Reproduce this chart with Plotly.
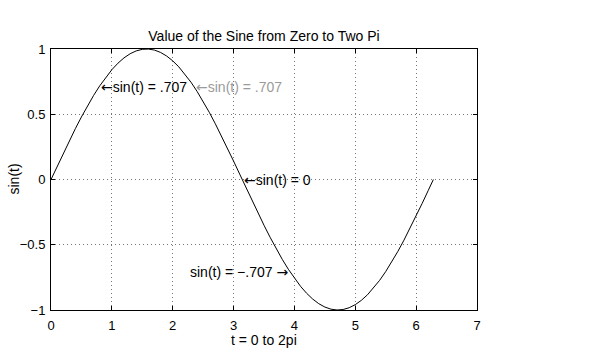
import plotly.graph_objects as go

# Sampled sine curve, t = 0 .. 2pi
t_vals = [0.0, 0.1, 0.2, 0.3, 0.4, 0.5, 0.6, 0.7, 0.8, 0.9,
          1.0, 1.1, 1.2, 1.3, 1.4, 1.5, 1.6, 1.7, 1.8, 1.9,
          2.0, 2.1, 2.2, 2.3, 2.4, 2.5, 2.6, 2.7, 2.8, 2.9,
          3.0, 3.1, 3.2, 3.3, 3.4, 3.5, 3.6, 3.7, 3.8, 3.9,
          4.0, 4.1, 4.2, 4.3, 4.4, 4.5, 4.6, 4.7, 4.8, 4.9,
          5.0, 5.1, 5.2, 5.3, 5.4, 5.5, 5.6, 5.7, 5.8, 5.9,
          6.0, 6.1, 6.2, 6.283]
sin_vals = [0.0, 0.0998, 0.1987, 0.2955, 0.3894, 0.4794, 0.5646, 0.6442, 0.7174, 0.7833,
            0.8415, 0.8912, 0.9320, 0.9636, 0.9854, 0.9975, 0.9996, 0.9917, 0.9738, 0.9463,
            0.9093, 0.8632, 0.8085, 0.7457, 0.6755, 0.5985, 0.5155, 0.4274, 0.3350, 0.2392,
            0.1411, 0.0416, -0.0584, -0.1577, -0.2555, -0.3508, -0.4425, -0.5298, -0.6119, -0.6878,
            -0.7568, -0.8183, -0.8716, -0.9162, -0.9516, -0.9775, -0.9937, -0.9999, -0.9962, -0.9825,
            -0.9589, -0.9258, -0.8835, -0.8323, -0.7728, -0.7055, -0.6313, -0.5507, -0.4646, -0.3739,
            -0.2794, -0.1822, -0.0831, 0.0]

# Labelled points on the curve
label_t = [0.785, 2.356, 3.1416, 3.927]
label_y = [0.707, 0.707, 0.0, -0.707]
label_text = ["sin(t) = .707", "sin(t) = .707", "sin(t) = 0", "sin(t) = \u2212.707 "]
label_arrow = ["left", "left", "left", "right"]
label_color = ["#000000", "#9a9a9a", "#000000", "#000000"]

x_ticks = [0, 1, 2, 3, 4, 5, 6, 7]
y_ticks = [-1, -0.5, 0, 0.5, 1]
y_ticktext = ["\u22121", "\u22120.5", "0", "0.5", "1"]

FONT = "Liberation Sans, Arial, Helvetica, sans-serif"
ARROW_SPAN = '<span style="font-family:DejaVu Sans">{}</span>'

# Axes box in pixels
W, H = 598, 350
L, R, T, B = 51, 121, 49, 40
PW, PH = W - L - R, H - T - B

fig = go.Figure()
fig.add_trace(go.Scatter(x=t_vals, y=sin_vals, mode="lines",
                         line=dict(color="#000000", width=1), showlegend=False,
                         hoverinfo="skip"))

for tx, ty, txt, side, col in zip(label_t, label_y, label_text, label_arrow, label_color):
    if side == "left":
        full = ARROW_SPAN.format("\u2190") + txt
        anc = "left"
    else:
        full = txt + ARROW_SPAN.format("\u2192")
        anc = "right"
    fig.add_annotation(x=tx, y=ty, text=full, showarrow=False, xanchor=anc, yanchor="middle",
                       font=dict(family=FONT, size=14, color=col))

# Axis titles
fig.add_annotation(text="t = 0 to 2pi", xref="paper", yref="paper", x=0.5,
                   y=-(340 - (T + PH)) / PH, xanchor="center", yanchor="middle",
                   showarrow=False, font=dict(family=FONT, size=14, color="#000000"))
fig.add_annotation(text="sin(t)", xref="paper", yref="paper", x=(13 - L) / PW, y=0.5,
                   xanchor="center", yanchor="middle", textangle=-90,
                   showarrow=False, font=dict(family=FONT, size=14, color="#000000"))

axis_common = dict(showline=True, linecolor="#000000", linewidth=1, mirror="ticks",
                   ticks="inside", ticklen=4, tickcolor="#000000", automargin=False,
                   showgrid=True, gridcolor="#777777", griddash="1px,3px", gridwidth=1,
                   zeroline=False, tickfont=dict(family=FONT, size=13, color="#000000"))

fig.update_xaxes(range=[0, 7], tickvals=x_ticks, ticklabelstandoff=3, **axis_common)
fig.update_yaxes(range=[-1, 1], tickvals=y_ticks, ticktext=y_ticktext, ticklabelstandoff=2,
                 **axis_common)

fig.update_layout(
    width=W, height=H,
    margin=dict(l=L, r=R, t=T, b=B),
    paper_bgcolor="#ffffff", plot_bgcolor="#ffffff",
    title=dict(text="Value of the Sine from Zero to Two Pi", x=0.5, xref="paper",
               xanchor="center", y=1 - 36 / H, yanchor="middle", automargin=False,
               font=dict(family=FONT, size=14, color="#000000")),
)

fig.write_html("out.html")
